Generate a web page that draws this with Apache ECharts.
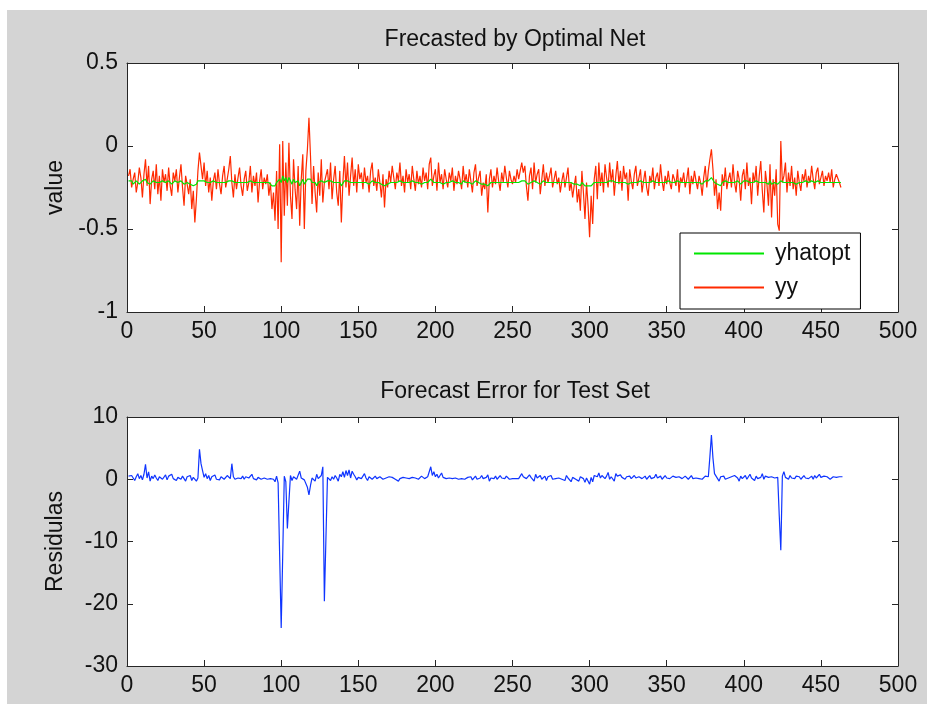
<!DOCTYPE html>
<html><head><meta charset="utf-8">
<script src="https://cdn.jsdelivr.net/npm/echarts@6/dist/echarts.min.js"></script>
<style>html,body{margin:0;padding:0;background:#fff}#c{width:927px;height:704px}</style>
</head><body><div id="c"></div>
<script>
const titleTop = 'Frecasted by Optimal Net';
const titleBottom = 'Forecast Error for Test Set';
const yNameTop = 'value';
const yNameBottom = 'Residulas';
const xRange = [0, 500, 50];
const yRangeTop = [-1, 0.5, 0.5];
const yRangeBottom = [-30, 10, 10];

const yy = [
-0.18,-0.14,-0.25,-0.20,-0.16,-0.28,-0.22,-0.13,-0.19,-0.31,
-0.17,-0.08,-0.24,-0.12,-0.35,-0.20,-0.15,-0.26,-0.11,-0.29,
-0.18,-0.33,-0.14,-0.22,-0.17,-0.27,-0.13,-0.24,-0.30,-0.16,
-0.21,-0.14,-0.28,-0.19,-0.11,-0.25,-0.36,-0.18,-0.23,-0.29,
-0.20,-0.38,-0.27,-0.46,-0.32,-0.15,-0.04,-0.12,-0.20,-0.10,
-0.24,-0.15,-0.28,-0.19,-0.33,-0.21,-0.16,-0.26,-0.14,-0.23,
-0.29,-0.18,-0.12,-0.25,-0.20,-0.14,-0.06,-0.22,-0.31,-0.17,
-0.26,-0.19,-0.13,-0.24,-0.30,-0.20,-0.15,-0.27,-0.22,-0.12,
-0.28,-0.18,-0.24,-0.16,-0.34,-0.21,-0.14,-0.26,-0.19,-0.23,
-0.17,-0.30,-0.22,-0.38,-0.28,-0.45,-0.15,-0.50,0.01,-0.70,
0.03,-0.42,-0.10,-0.36,0.02,-0.30,-0.44,-0.08,-0.26,-0.38,
-0.12,-0.48,-0.20,-0.05,-0.50,-0.15,-0.02,0.17,-0.06,-0.35,
-0.12,-0.28,-0.40,-0.16,-0.30,-0.08,-0.34,-0.22,-0.18,-0.14,
-0.26,-0.10,-0.32,-0.20,-0.12,-0.28,-0.36,-0.15,-0.46,-0.22,
-0.06,-0.25,-0.10,-0.30,-0.18,-0.07,-0.24,-0.14,-0.28,-0.11,
-0.20,-0.16,-0.26,-0.13,-0.22,-0.18,-0.28,-0.15,-0.10,-0.24,
-0.19,-0.27,-0.14,-0.22,-0.31,-0.17,-0.37,-0.20,-0.25,-0.15,
-0.22,-0.12,-0.19,-0.26,-0.16,-0.21,-0.10,-0.24,-0.18,-0.28,
-0.14,-0.22,-0.17,-0.26,-0.12,-0.20,-0.27,-0.15,-0.23,-0.18,
-0.25,-0.13,-0.21,-0.16,-0.26,-0.11,-0.07,-0.24,-0.18,-0.14,
-0.27,-0.10,-0.22,-0.17,-0.26,-0.14,-0.20,-0.25,-0.16,-0.21,
-0.13,-0.27,-0.18,-0.23,-0.15,-0.20,-0.26,-0.12,-0.22,-0.17,
-0.25,-0.14,-0.21,-0.28,-0.16,-0.11,-0.24,-0.19,-0.15,-0.30,
-0.22,-0.26,-0.17,-0.40,-0.20,-0.14,-0.25,-0.18,-0.23,-0.13,
-0.21,-0.27,-0.16,-0.22,-0.12,-0.19,-0.25,-0.15,-0.20,-0.23,
-0.18,-0.22,-0.14,-0.20,-0.21,-0.10,-0.16,-0.12,-0.24,-0.33,
-0.18,-0.13,-0.26,-0.10,-0.22,-0.17,-0.14,-0.29,-0.20,-0.11,
-0.24,-0.16,-0.22,-0.18,-0.13,-0.25,-0.20,-0.15,-0.23,-0.19,
-0.28,-0.21,-0.16,-0.25,-0.19,-0.13,-0.27,-0.22,-0.31,-0.24,
-0.18,-0.34,-0.26,-0.39,-0.15,-0.28,-0.44,-0.22,-0.36,-0.55,
-0.30,-0.47,-0.20,-0.12,-0.32,-0.10,-0.24,-0.16,-0.28,-0.11,
-0.19,-0.25,-0.10,-0.22,-0.14,-0.30,-0.18,-0.09,-0.23,-0.15,
-0.27,-0.12,-0.20,-0.16,-0.33,-0.14,-0.21,-0.26,-0.17,-0.12,
-0.24,-0.19,-0.14,-0.28,-0.21,-0.15,-0.25,-0.30,-0.18,-0.22,
-0.13,-0.26,-0.19,-0.16,-0.24,-0.11,-0.21,-0.27,-0.18,-0.23,
-0.15,-0.22,-0.26,-0.17,-0.20,-0.24,-0.14,-0.28,-0.19,-0.22,
-0.16,-0.25,-0.20,-0.13,-0.29,-0.18,-0.23,-0.15,-0.21,-0.26,
-0.18,-0.22,-0.30,-0.19,-0.12,-0.25,-0.15,-0.08,-0.02,-0.14,
-0.30,-0.20,-0.38,-0.28,-0.39,-0.17,-0.24,-0.13,-0.26,-0.20,
-0.16,-0.25,-0.11,-0.22,-0.28,-0.15,-0.20,-0.33,-0.18,-0.14,
-0.26,-0.10,-0.24,-0.19,-0.35,-0.16,-0.22,-0.12,-0.30,-0.18,
-0.09,-0.27,-0.40,-0.15,-0.23,-0.36,-0.11,-0.43,-0.20,-0.30,
-0.14,-0.47,-0.51,0.03,-0.22,-0.18,-0.10,-0.28,-0.16,-0.24,
-0.12,-0.26,-0.19,-0.30,-0.15,-0.22,-0.27,-0.17,-0.21,-0.14,
-0.25,-0.18,-0.22,-0.12,-0.20,-0.26,-0.16,-0.13,-0.23,-0.19,
-0.15,-0.24,-0.18,-0.21,-0.16,-0.22,-0.14,-0.25,-0.20,-0.17,
-0.16,-0.22,-0.25
];

const yhatopt = [
-0.21,-0.22,-0.21,-0.23,-0.22,-0.21,-0.22,-0.23,-0.22,-0.21,-0.22,-0.20,-0.22,-0.21,-0.23,-0.22,-0.21,-0.22,-0.22,-0.23,
-0.22,-0.23,-0.21,-0.22,-0.22,-0.23,-0.21,-0.22,-0.23,-0.22,-0.21,-0.22,-0.22,-0.23,-0.21,-0.22,-0.23,-0.22,-0.22,-0.23,
-0.23,-0.24,-0.24,-0.25,-0.23,-0.21,-0.20,-0.21,-0.22,-0.21,-0.22,-0.22,-0.23,-0.22,-0.22,-0.21,-0.22,-0.22,-0.21,-0.22,
-0.23,-0.22,-0.21,-0.22,-0.22,-0.21,-0.20,-0.21,-0.22,-0.22,-0.23,-0.22,-0.21,-0.22,-0.23,-0.22,-0.21,-0.22,-0.22,-0.21,
-0.22,-0.22,-0.23,-0.22,-0.23,-0.22,-0.21,-0.22,-0.22,-0.22,-0.21,-0.22,-0.23,-0.24,-0.23,-0.24,-0.22,-0.23,-0.20,-0.22,
-0.18,-0.21,-0.19,-0.22,-0.19,-0.21,-0.23,-0.20,-0.22,-0.23,-0.21,-0.24,-0.22,-0.20,-0.23,-0.22,-0.20,-0.19,-0.20,-0.22,
-0.21,-0.22,-0.24,-0.22,-0.23,-0.21,-0.22,-0.22,-0.21,-0.21,-0.22,-0.21,-0.22,-0.22,-0.21,-0.22,-0.23,-0.22,-0.24,-0.23,
-0.21,-0.22,-0.21,-0.22,-0.22,-0.21,-0.22,-0.21,-0.22,-0.21,-0.22,-0.22,-0.22,-0.21,-0.22,-0.22,-0.23,-0.22,-0.21,-0.22,
-0.22,-0.23,-0.22,-0.22,-0.23,-0.22,-0.24,-0.23,-0.23,-0.22,-0.22,-0.21,-0.22,-0.22,-0.22,-0.22,-0.21,-0.22,-0.22,-0.23,
-0.22,-0.22,-0.22,-0.23,-0.21,-0.22,-0.22,-0.22,-0.22,-0.22,-0.23,-0.22,-0.22,-0.22,-0.22,-0.21,-0.20,-0.21,-0.22,-0.21,
-0.22,-0.21,-0.22,-0.22,-0.23,-0.22,-0.22,-0.22,-0.22,-0.22,-0.21,-0.22,-0.22,-0.22,-0.22,-0.22,-0.23,-0.21,-0.22,-0.22,
-0.22,-0.22,-0.22,-0.23,-0.22,-0.21,-0.22,-0.22,-0.22,-0.23,-0.22,-0.23,-0.22,-0.24,-0.23,-0.22,-0.22,-0.22,-0.22,-0.22,
-0.22,-0.22,-0.22,-0.22,-0.21,-0.22,-0.22,-0.22,-0.22,-0.22,-0.22,-0.22,-0.21,-0.22,-0.22,-0.21,-0.21,-0.21,-0.22,-0.23,
-0.22,-0.22,-0.22,-0.21,-0.22,-0.22,-0.22,-0.23,-0.22,-0.21,-0.22,-0.22,-0.22,-0.22,-0.21,-0.22,-0.22,-0.22,-0.22,-0.22,
-0.23,-0.22,-0.22,-0.22,-0.22,-0.22,-0.23,-0.22,-0.23,-0.23,-0.22,-0.23,-0.23,-0.24,-0.22,-0.23,-0.24,-0.23,-0.24,-0.25,
-0.24,-0.24,-0.22,-0.21,-0.22,-0.21,-0.22,-0.21,-0.22,-0.21,-0.22,-0.22,-0.21,-0.22,-0.21,-0.22,-0.22,-0.21,-0.22,-0.21,
-0.22,-0.21,-0.22,-0.22,-0.23,-0.22,-0.22,-0.22,-0.22,-0.21,-0.22,-0.22,-0.21,-0.22,-0.22,-0.21,-0.22,-0.23,-0.22,-0.22,
-0.21,-0.22,-0.22,-0.22,-0.22,-0.21,-0.22,-0.22,-0.22,-0.22,-0.21,-0.22,-0.22,-0.22,-0.22,-0.22,-0.21,-0.22,-0.22,-0.22,
-0.22,-0.22,-0.22,-0.21,-0.22,-0.22,-0.22,-0.21,-0.22,-0.22,-0.22,-0.22,-0.23,-0.22,-0.21,-0.22,-0.21,-0.20,-0.19,-0.20,
-0.22,-0.22,-0.23,-0.23,-0.24,-0.22,-0.22,-0.21,-0.22,-0.22,-0.21,-0.22,-0.21,-0.22,-0.22,-0.21,-0.22,-0.23,-0.22,-0.21,
-0.22,-0.21,-0.22,-0.22,-0.23,-0.22,-0.22,-0.21,-0.22,-0.22,-0.21,-0.22,-0.23,-0.22,-0.22,-0.23,-0.21,-0.23,-0.22,-0.22,
-0.22,-0.23,-0.24,-0.21,-0.22,-0.22,-0.21,-0.22,-0.22,-0.22,-0.21,-0.22,-0.22,-0.23,-0.22,-0.22,-0.22,-0.22,-0.22,-0.21,
-0.22,-0.22,-0.22,-0.21,-0.22,-0.22,-0.22,-0.21,-0.22,-0.22,-0.21,-0.22,-0.22,-0.22,-0.22,-0.22,-0.21,-0.22,-0.22,-0.22,
-0.22,-0.22,-0.22
];

const residuals = [
0.5,0.2,0.6,0.3,-0.2,0.4,0.9,0.1,0.6,-0.1,0.8,2.4,0.2,1.2,-0.3,0.5,0.1,0.7,0.2,-0.2,
0.4,0.6,0.0,0.3,0.7,-0.1,0.5,0.2,0.8,0.1,0.4,-0.2,0.3,0.6,0.0,0.5,0.2,-0.3,0.4,0.1,
0.6,-0.2,0.3,0.0,-0.3,0.2,4.8,2.5,1.4,0.3,0.9,0.1,0.6,-0.2,0.4,0.3,0.7,0.0,0.3,-0.1,
0.4,0.5,0.0,0.2,0.6,0.3,0.1,2.5,0.4,0.0,-0.3,0.2,0.3,0.1,0.5,0.0,0.4,0.6,0.2,0.3,
0.8,0.1,0.4,-0.1,0.3,0.2,0.0,-0.1,0.2,0.1,0.0,-0.3,0.1,-0.2,0.0,-0.4,0.5,-0.6,-12.2,-23.9,
-12.0,0.5,-0.4,-7.9,-3.6,0.6,-0.2,0.4,0.1,0.0,0.3,1.3,0.2,0.4,-0.1,0.2,-1.3,-2.5,-1.0,0.2,
0.5,-0.3,0.8,0.1,0.3,0.6,2.0,-19.6,-9.6,0.3,0.5,-0.2,0.4,0.0,0.6,0.2,-0.3,0.8,0.4,1.2,
0.3,1.4,0.6,1.5,0.2,1.3,0.8,0.4,-0.1,0.3,0.6,0.1,0.5,0.9,0.2,-0.2,0.4,0.7,0.0,0.3,
0.5,0.1,-0.2,0.4,0.6,0.0,0.3,0.2,-0.1,0.4,0.1,0.3,0.6,0.0,0.2,-0.3,0.1,0.4,0.3,0.0,
0.2,0.5,0.1,-0.2,0.3,0.6,0.2,0.4,0.0,0.1,0.5,0.3,0.1,0.2,0.4,0.3,2.0,0.6,1.2,0.4,
0.8,0.2,0.5,1.0,0.3,0.6,0.1,0.3,0.2,0.0,0.1,0.0,0.2,0.1,0.0,0.2,0.1,0.4,0.0,-0.2,
0.3,0.1,0.4,-0.1,0.2,0.5,0.0,0.3,0.2,0.6,0.1,-0.2,0.3,0.7,-0.3,0.2,0.4,0.1,0.5,0.0,
0.3,0.6,0.2,0.4,0.1,0.5,0.3,0.0,0.2,0.1,0.0,0.1,0.0,0.1,0.2,0.9,0.4,0.6,0.1,-0.2,
0.7,0.3,0.5,-0.3,0.8,0.2,0.1,0.6,0.0,0.3,0.5,-0.2,0.4,0.2,0.6,0.0,0.3,0.1,-0.1,0.2,
0.4,0.0,0.3,-0.2,0.6,0.2,0.1,-0.4,0.3,0.5,0.0,0.2,-0.3,0.4,0.7,0.1,-0.5,0.2,0.5,-0.8,
0.3,-0.4,0.6,0.9,0.4,1.0,0.2,0.6,0.8,0.1,0.5,1.1,0.0,0.4,0.7,-0.3,0.9,0.5,0.2,0.7,
0.3,0.6,0.0,0.4,0.2,0.5,0.1,0.3,0.6,0.2,0.0,0.4,0.7,0.1,0.3,0.5,0.0,0.2,0.6,0.1,
0.4,0.3,0.8,0.2,0.1,0.5,0.0,0.3,0.6,0.2,0.4,0.1,0.3,0.5,0.2,0.3,0.0,0.4,0.2,0.1,
0.3,0.5,0.2,0.0,0.3,0.6,0.1,0.4,0.2,0.3,0.1,0.4,0.0,0.2,0.5,0.3,0.4,3.6,7.1,3.4,
0.9,1.2,0.1,-0.3,0.4,0.2,0.5,0.0,0.3,0.2,0.1,0.4,0.3,0.6,0.9,0.2,-0.3,0.5,0.1,0.3,
0.6,0.0,0.4,0.8,0.2,0.3,-0.2,0.5,0.1,0.4,0.3,0.9,0.0,0.5,0.2,0.3,0.1,0.4,0.6,0.2,
-0.1,0.3,-5.9,-11.4,0.5,1.2,0.3,0.4,0.0,0.6,0.2,0.3,0.1,0.5,0.2,0.4,0.0,0.3,0.6,0.2,
0.4,0.1,0.3,0.5,0.0,0.6,0.2,0.4,0.8,0.3,0.1,0.5,0.2,0.4,0.3,0.0,0.2,0.4,0.6,0.3,
0.5,0.4,0.6,0.4
];

const FONT = 'Liberation Sans';
const AX = '#262626';
const pts = arr => arr.map((v, i) => [i + 1, v]);

function xAxis(gi, pos, labels) {
  return {
    type: 'value', gridIndex: gi, position: pos,
    min: xRange[0], max: xRange[1], interval: xRange[2],
    axisLine: { show: true, onZero: false, lineStyle: { color: AX, width: 1 } },
    axisTick: { show: true, inside: true, length: 6, lineStyle: { color: AX, width: 1 } },
    axisLabel: { show: labels, fontFamily: FONT, fontSize: 23, color: '#111', margin: 8 },
    splitLine: { show: false }
  };
}
function yAxis(gi, pos, r, labels, name) {
  return {
    type: 'value', gridIndex: gi, position: pos,
    min: r[0], max: r[1], interval: r[2],
    name: name || '', nameLocation: 'middle', nameGap: 60,
    nameTextStyle: { fontFamily: FONT, fontSize: 23, color: '#111' },
    axisLine: { show: true, onZero: false, lineStyle: { color: AX, width: 1 } },
    axisTick: { show: true, inside: true, length: 6, lineStyle: { color: AX, width: 1 } },
    axisLabel: { show: labels, fontFamily: FONT, fontSize: 23, color: '#111', margin: 9 },
    splitLine: { show: false }
  };
}

const chart = echarts.init(document.getElementById('c'), null, { renderer: 'canvas' });
chart.setOption({
  animation: false,
  backgroundColor: '#d4d4d4',
  graphic: [
    { type: 'rect', shape: { x: 0, y: 0, width: 927, height: 10 }, style: { fill: '#ffffff' } },
    { type: 'rect', shape: { x: 0, y: 0, width: 7, height: 704 }, style: { fill: '#ffffff' } }
  ],
  title: [
    { text: titleTop, left: 510, top: 23, textAlign: 'center', padding: 5,
      textStyle: { fontFamily: FONT, fontSize: 23, fontWeight: 'normal', color: '#111' } },
    { text: titleBottom, left: 510, top: 375, textAlign: 'center', padding: 5,
      textStyle: { fontFamily: FONT, fontSize: 23, fontWeight: 'normal', color: '#111' } }
  ],
  grid: [
    { left: 127, right: 29, top: 63, height: 249, show: true, backgroundColor: '#ffffff', borderWidth: 0 },
    { left: 127, right: 29, top: 417, height: 249, show: true, backgroundColor: '#ffffff', borderWidth: 0 }
  ],
  xAxis: [xAxis(0, 'bottom', true), xAxis(0, 'top', false), xAxis(1, 'bottom', true), xAxis(1, 'top', false)],
  yAxis: [yAxis(0, 'left', yRangeTop, true, yNameTop), yAxis(0, 'right', yRangeTop, false),
          yAxis(1, 'left', yRangeBottom, true, yNameBottom), yAxis(1, 'right', yRangeBottom, false)],
  legend: {
    data: ['yhatopt', 'yy'], orient: 'vertical', left: 680, top: 233,
    backgroundColor: '#ffffff', borderColor: '#000', borderWidth: 1,
    padding: [9, 10, 10, 14], itemGap: 11, itemWidth: 70, itemHeight: 2, icon: 'rect',
    textStyle: { fontFamily: FONT, fontSize: 23, color: '#111', lineHeight: 22, padding: [0, 0, 0, 6] }
  },
  series: [
    { name: 'yy', type: 'line', xAxisIndex: 0, yAxisIndex: 0, data: pts(yy), symbol: 'none',
      lineStyle: { color: '#ff2a00', width: 1.2 }, itemStyle: { color: '#ff2a00' }, z: 2 },
    { name: 'yhatopt', type: 'line', xAxisIndex: 0, yAxisIndex: 0, data: pts(yhatopt), symbol: 'none',
      lineStyle: { color: '#00e600', width: 1.2 }, itemStyle: { color: '#00e600' }, z: 3 },
    { name: 'residuals', type: 'line', xAxisIndex: 2, yAxisIndex: 2, data: pts(residuals), symbol: 'none',
      lineStyle: { color: '#0f35ff', width: 1.2 }, itemStyle: { color: '#0f35ff' }, z: 2 }
  ]
});
</script></body></html>
